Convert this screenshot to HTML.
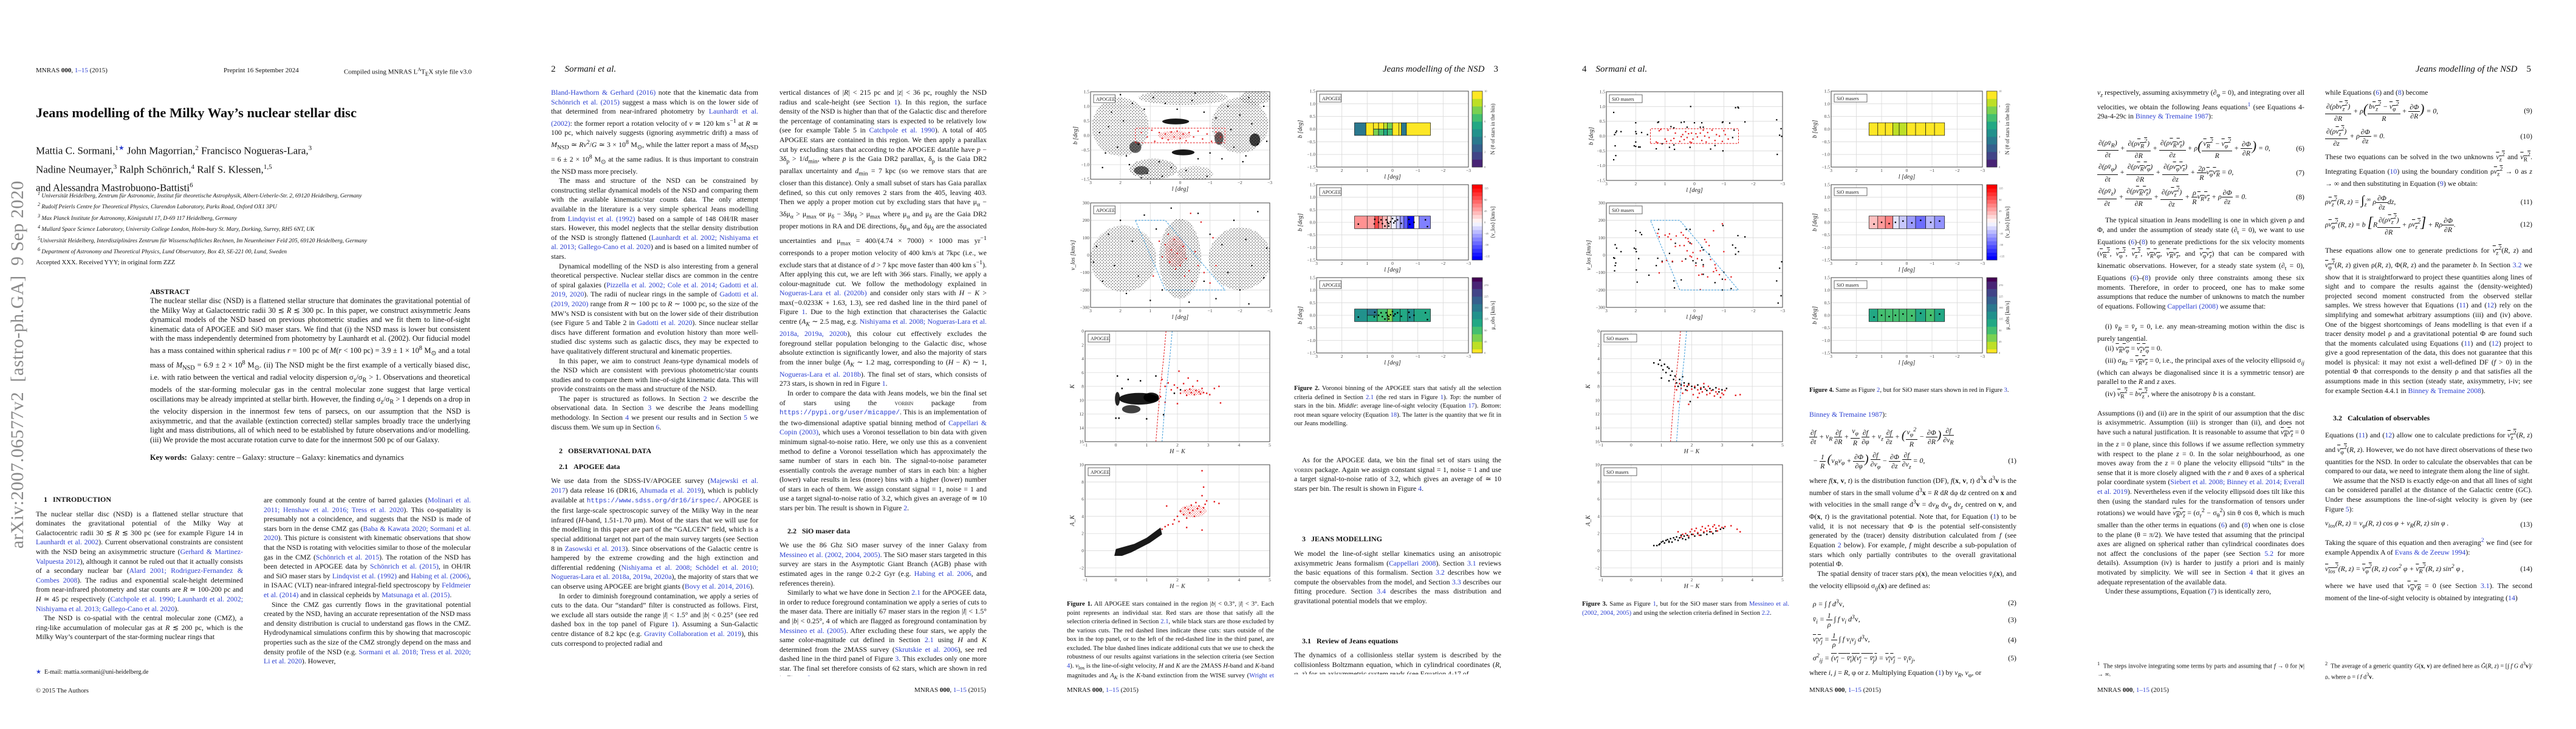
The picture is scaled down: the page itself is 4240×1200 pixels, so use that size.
<!DOCTYPE html>
<html><head><meta charset="utf-8">
<style>
*{margin:0;padding:0;box-sizing:border-box}
body{width:4240px;height:1200px;background:#fff;position:relative;overflow:hidden;font-family:"Liberation Serif",serif;color:#111}
.a{position:absolute}
.col{position:absolute;width:341px;font-size:11.8px;line-height:15.6px;text-align:justify;overflow:hidden;hyphens:auto}
.col p{text-indent:13px}
.col p.ni{text-indent:0}
.hd{font-weight:bold;font-size:12px;text-indent:0;margin:0}
.lk{color:#2b3fd1}
.hdr{position:absolute;top:106px;font-size:15px;font-style:italic}
.ftr{position:absolute;top:1130px;font-size:11px}
.cap{position:absolute;width:341px;font-size:10.6px;line-height:14.5px;text-align:justify;overflow:hidden}
.fr{display:inline-flex;flex-direction:column;vertical-align:middle;text-align:center;line-height:14px}
.fr>span:first-child{border-bottom:1px solid #111;padding:0 2px}
.eq{display:flex;justify-content:space-between;align-items:center;margin:4px 0;text-align:left;font-style:italic}
.eq b{font-style:normal;font-weight:normal}
svg text{font-family:"Liberation Serif",serif}
</style></head><body>

<!-- ================= PAGE 1 ================= -->
<div class="a" style="left:0;top:0;width:848px;height:1200px">
<div class="a" style="left:12px;top:903px;width:560px;font-size:30px;color:#8a8a8a;transform:rotate(-90deg);transform-origin:0 0;white-space:nowrap;letter-spacing:0.5px">arXiv:2007.06577v2&nbsp; [astro-ph.GA]&nbsp; 9 Sep 2020</div>
<div class="a" style="left:59px;top:110px;font-size:11px">MNRAS <b>000</b>, <span class="lk">1–15</span> (2015)</div>
<div class="a" style="left:368px;top:110px;font-size:11px">Preprint 16 September 2024</div>
<div class="a" style="left:566px;top:110px;font-size:11px">Compiled using MNRAS L<sup style="font-size:8px">A</sup>T<sub style="font-size:9px">E</sub>X style file v3.0</div>
<div class="a" style="left:59px;top:173px;font-size:22.5px;font-weight:bold;white-space:nowrap">Jeans modelling of the Milky Way’s nuclear stellar disc</div>
<div class="a" style="left:59px;top:231px;font-size:17px;line-height:26px;white-space:nowrap">Mattia C. Sormani,<sup style="font-size:11px">1<span class="lk">★</span></sup> John Magorrian,<sup style="font-size:11px">2</sup> Francisco Nogueras-Lara,<sup style="font-size:11px">3</sup><br>Nadine Neumayer,<sup style="font-size:11px">3</sup> Ralph Schönrich,<sup style="font-size:11px">4</sup> Ralf S. Klessen,<sup style="font-size:11px">1,5</sup><br>and Alessandra Mastrobuono-Battisti<sup style="font-size:11px">6</sup></div>
<div class="a" style="left:62px;top:312px;font-size:9.6px;line-height:14.2px;font-style:italic;white-space:nowrap">
<sup>1</sup> Universität Heidelberg, Zentrum für Astronomie, Institut für theoretische Astrophysik, Albert-Ueberle-Str. 2, 69120 Heidelberg, Germany<br>
<sup>2</sup> Rudolf Peierls Centre for Theoretical Physics, Clarendon Laboratory, Parks Road, Oxford OX1 3PU<br>
<sup>3</sup> Max Planck Institute for Astronomy, Königstuhl 17, D-69 117 Heidelberg, Germany<br>
<sup>4</sup> Mullard Space Science Laboratory, University College London, Holm-bury St. Mary, Dorking, Surrey, RH5 6NT, UK<br>
<sup>5</sup>Universität Heidelberg, Interdisziplinäres Zentrum für Wissenschaftliches Rechnen, Im Neuenheimer Feld 205, 69120 Heidelberg, Germany<br>
<sup>6</sup> Department of Astronomy and Theoretical Physics, Lund Observatory, Box 43, SE-221 00, Lund, Sweden</div>
<div class="a" style="left:59px;top:427px;font-size:10.6px">Accepted XXX. Received YYY; in original form ZZZ</div>
<div class="a" style="left:247px;top:473px;font-size:12px;font-weight:bold">ABSTRACT</div>
<div class="col" style="left:247px;top:488px;width:527px;height:248px;font-size:12.4px">The nuclear stellar disc (NSD) is a flattened stellar structure that dominates the gravitational potential of the Milky Way at Galactocentric radii 30 ≲ <i>R</i> ≲ 300 pc. In this paper, we construct axisymmetric Jeans dynamical models of the NSD based on previous photometric studies and we fit them to line-of-sight kinematic data of APOGEE and SiO maser stars. We find that (i) the NSD mass is lower but consistent with the mass independently determined from photometry by Launhardt et al. (2002). Our fiducial model has a mass contained within spherical radius <i>r</i> = 100 pc of <i>M</i>(<i>r</i> &lt; 100 pc) = 3.9 ± 1 × 10<sup>8</sup> M<sub>⊙</sub> and a total mass of <i>M</i><sub>NSD</sub> = 6.9 ± 2 × 10<sup>8</sup> M<sub>⊙</sub>. (ii) The NSD might be the first example of a vertically biased disc, i.e. with ratio between the vertical and radial velocity dispersion σ<sub>z</sub>/σ<sub>R</sub> &gt; 1. Observations and theoretical models of the star-forming molecular gas in the central molecular zone suggest that large vertical oscillations may be already imprinted at stellar birth. However, the finding σ<sub>z</sub>/σ<sub>R</sub> &gt; 1 depends on a drop in the velocity dispersion in the innermost few tens of parsecs, on our assumption that the NSD is axisymmetric, and that the available (extinction corrected) stellar samples broadly trace the underlying light and mass distributions, all of which need to be established by future observations and/or modelling. (iii) We provide the most accurate rotation curve to date for the innermost 500 pc of our Galaxy.</div>
<div class="a" style="left:247px;top:746px;font-size:12.4px"><b>Key words:</b>&nbsp; Galaxy: centre – Galaxy: structure – Galaxy: kinematics and dynamics</div>
<div class="col" style="left:59px;top:815px;height:256px">
<p class="hd">1&nbsp;&nbsp;&nbsp;INTRODUCTION</p><div style="height:8px"></div>
<p class="ni">The nuclear stellar disc (NSD) is a flattened stellar structure that dominates the gravitational potential of the Milky Way at Galactocentric radii 30 ≲ <i>R</i> ≲ 300 pc (see for example Figure 14 in <span class="lk">Launhardt et al. 2002</span>). Current observational constraints are consistent with the NSD being an axisymmetric structure (<span class="lk">Gerhard &amp; Martinez-Valpuesta 2012</span>), although it cannot be ruled out that it actually consists of a secondary nuclear bar (<span class="lk">Alard 2001; Rodriguez-Fernandez &amp; Combes 2008</span>). The radius and exponential scale-height determined from near-infrared photometry and star counts are <i>R</i> ≃ 100-200 pc and <i>H</i> ≃ 45 pc respectively (<span class="lk">Catchpole et al. 1990; Launhardt et al. 2002; Nishiyama et al. 2013; Gallego-Cano et al. 2020</span>).</p>
<p>The NSD is co-spatial with the central molecular zone (CMZ), a ring-like accumulation of molecular gas at <i>R</i> ≲ 200 pc, which is the Milky Way’s counterpart of the star-forming nuclear rings that</p></div>
<div class="col" style="left:434px;top:816px;height:296px">
<p class="ni">are commonly found at the centre of barred galaxies (<span class="lk">Molinari et al. 2011; Henshaw et al. 2016; Tress et al. 2020</span>). This co-spatiality is presumably not a coincidence, and suggests that the NSD is made of stars born in the dense CMZ gas (<span class="lk">Baba &amp; Kawata 2020; Sormani et al. 2020</span>). This picture is consistent with kinematic observations that show that the NSD is rotating with velocities similar to those of the molecular gas in the CMZ (<span class="lk">Schönrich et al. 2015</span>). The rotation of the NSD has been detected in APOGEE data by <span class="lk">Schönrich et al. (2015)</span>, in OH/IR and SiO maser stars by <span class="lk">Lindqvist et al. (1992)</span> and <span class="lk">Habing et al. (2006)</span>, in ISAAC (VLT) near-infrared integral-field spectroscopy by <span class="lk">Feldmeier et al. (2014)</span> and in classical cepheids by <span class="lk">Matsunaga et al. (2015)</span>.</p>
<p>Since the CMZ gas currently flows in the gravitational potential created by the NSD, having an accurate representation of the NSD mass and density distribution is crucial to understand gas flows in the CMZ. Hydrodynamical simulations confirm this by showing that macroscopic properties such as the size of the CMZ strongly depend on the mass and density profile of the NSD (e.g. <span class="lk">Sormani et al. 2018; Tress et al. 2020; Li et al. 2020</span>). However,</p></div>
<div class="a" style="left:59px;top:1101px;font-size:10px"><span class="lk">★</span>&nbsp; E-mail: mattia.sormani@uni-heidelberg.de</div>
<div class="a" style="left:59px;top:1132px;font-size:10.6px">© 2015 The Authors</div>
</div>

<!-- ================= PAGE 2 ================= -->
<div class="hdr" style="left:907px;font-style:normal"><span style="font-style:normal">2</span>&nbsp;&nbsp;&nbsp;&nbsp;<i>Sormani et al.</i></div>
<div class="col" style="left:907px;top:145px;height:968px">
<p class="ni"><span class="lk">Bland-Hawthorn &amp; Gerhard (2016)</span> note that the kinematic data from <span class="lk">Schönrich et al. (2015)</span> suggest a mass which is on the lower side of that determined from near-infrared photometry by <span class="lk">Launhardt et al. (2002)</span>: the former report a rotation velocity of <i>v</i> ≃ 120 km s<sup>−1</sup> at <i>R</i> ≃ 100 pc, which naively suggests (ignoring asymmetric drift) a mass of <i>M</i><sub>NSD</sub> ≃ <i>Rv</i><sup>2</sup>/<i>G</i> ≃ 3 × 10<sup>8</sup> M<sub>⊙</sub>, while the latter report a mass of <i>M</i><sub>NSD</sub> = 6 ± 2 × 10<sup>8</sup> M<sub>⊙</sub> at the same radius. It is thus important to constrain the NSD mass more precisely.</p>
<p>The mass and structure of the NSD can be constrained by constructing stellar dynamical models of the NSD and comparing them with the available kinematic/star counts data. The only attempt available in the literature is a very simple spherical Jeans modelling from <span class="lk">Lindqvist et al. (1992)</span> based on a sample of 148 OH/IR maser stars. However, this model neglects that the stellar density distribution of the NSD is strongly flattened (<span class="lk">Launhardt et al. 2002; Nishiyama et al. 2013; Gallego-Cano et al. 2020</span>) and is based on a limited number of stars.</p>
<p>Dynamical modelling of the NSD is also interesting from a general theoretical perspective. Nuclear stellar discs are common in the centre of spiral galaxies (<span class="lk">Pizzella et al. 2002; Cole et al. 2014; Gadotti et al. 2019, 2020</span>). The radii of nuclear rings in the sample of <span class="lk">Gadotti et al. (2019, 2020)</span> range from <i>R</i> ∼ 100 pc to <i>R</i> ∼ 1000 pc, so the size of the MW’s NSD is consistent with but on the lower side of their distribution (see Figure 5 and Table 2 in <span class="lk">Gadotti et al. 2020</span>). Since nuclear stellar discs have different formation and evolution history than more well-studied disc systems such as galactic discs, they may be expected to have qualitatively different structural and kinematic properties.</p>
<p>In this paper, we aim to construct Jeans-type dynamical models of the NSD which are consistent with previous photometric/star counts studies and to compare them with line-of-sight kinematic data. This will provide constraints on the mass and structure of the NSD.</p>
<p>The paper is structured as follows. In Section <span class="lk">2</span> we describe the observational data. In Section <span class="lk">3</span> we describe the Jeans modelling methodology. In Section <span class="lk">4</span> we present our results and in Section <span class="lk">5</span> we discuss them. We sum up in Section <span class="lk">6</span>.</p>
<div style="height:24px"></div>
<p class="hd">2&nbsp;&nbsp;&nbsp;OBSERVATIONAL DATA</p><div style="height:10px"></div>
<p class="hd">2.1&nbsp;&nbsp;&nbsp;APOGEE data</p><div style="height:8px"></div>
<p class="ni">We use data from the SDSS-IV/APOGEE survey (<span class="lk">Majewski et al. 2017</span>) data release 16 (DR16, <span class="lk">Ahumada et al. 2019</span>), which is publicly available at <span class="lk" style="font-family:'Liberation Mono',monospace;font-size:11px">https://www.sdss.org/dr16/irspec/</span>. APOGEE is the first large-scale spectroscopic survey of the Milky Way in the near infrared (<i>H</i>-band, 1.51-1.70 μm). Most of the stars that we will use for the modelling in this paper are part of the “GALCEN” field, which is a special additional target not part of the main survey targets (see Section 8 in <span class="lk">Zasowski et al. 2013</span>). Since observations of the Galactic centre is hampered by the extreme crowding and the high extinction and differential reddening (<span class="lk">Nishiyama et al. 2008; Schödel et al. 2010; Nogueras-Lara et al. 2018a, 2019a, 2020a</span>), the majority of stars that we can observe using APOGEE are bright giants (<span class="lk">Bovy et al. 2014, 2016</span>).</p>
<p>In order to diminish foreground contamination, we apply a series of cuts to the data. Our “standard” filter is constructed as follows. First, we exclude all stars outside the range |<i>l</i>| &lt; 1.5° and |<i>b</i>| &lt; 0.25° (see red dashed box in the top panel of Figure <span class="lk">1</span>). Assuming a Sun-Galactic centre distance of 8.2 kpc (e.g. <span class="lk">Gravity Collaboration et al. 2019</span>), this cuts correspond to projected radial and</p></div>
<div class="col" style="left:1283px;top:145px;height:968px">
<p class="ni">vertical distances of |<i>R</i>| &lt; 215 pc and |<i>z</i>| &lt; 36 pc, roughly the NSD radius and scale-height (see Section <span class="lk">1</span>). In this region, the surface density of the NSD is higher than that of the Galactic disc and therefore the percentage of contaminating stars is expected to be relatively low (see for example Table 5 in <span class="lk">Catchpole et al. 1990</span>). A total of 405 APOGEE stars are contained in this region. We then apply a parallax cut by excluding stars that according to the APOGEE datafile have <i>p</i> − 3δ<sub>p</sub> &gt; 1/<i>d</i><sub>min</sub>, where <i>p</i> is the Gaia DR2 parallax, δ<sub>p</sub> is the Gaia DR2 parallax uncertainty and <i>d</i><sub>min</sub> = 7 kpc (so we remove stars that are closer than this distance). Only a small subset of stars has Gaia parallax defined, so this cut only removes 2 stars from the 405, leaving 403. Then we apply a proper motion cut by excluding stars that have μ<sub>α</sub> − 3δμ<sub>α</sub> &gt; μ<sub>max</sub> or μ<sub>δ</sub> − 3δμ<sub>δ</sub> &gt; μ<sub>max</sub> where μ<sub>α</sub> and μ<sub>δ</sub> are the Gaia DR2 proper motions in RA and DE directions, δμ<sub>α</sub> and δμ<sub>δ</sub> are the associated uncertainties and μ<sub>max</sub> = 400/(4.74 × 7000) × 1000 mas yr<sup>−1</sup> corresponds to a proper motion velocity of 400 km/s at 7kpc (i.e., we exclude stars that at distance of <i>d</i> &gt; 7 kpc move faster than 400 km s<sup>−1</sup>). After applying this cut, we are left with 366 stars. Finally, we apply a colour-magnitude cut. We follow the methodology explained in <span class="lk">Nogueras-Lara et al. (2020b)</span> and consider only stars with <i>H</i> − <i>K</i> &gt; max(−0.0233<i>K</i> + 1.63, 1.3), see red dashed line in the third panel of Figure <span class="lk">1</span>. Due to the high extinction that characterises the Galactic centre (<i>A<sub>K</sub></i> ∼ 2.5 mag, e.g. <span class="lk">Nishiyama et al. 2008; Nogueras-Lara et al. 2018a, 2019a, 2020b</span>), this colour cut effectively excludes the foreground stellar population belonging to the Galactic disc, whose absolute extinction is significantly lower, and also the majority of stars from the inner bulge (<i>A<sub>K</sub></i> ∼ 1.2 mag, corresponding to (<i>H</i> − <i>K</i>) ∼ 1, <span class="lk">Nogueras-Lara et al. 2018b</span>). The final set of stars, which consists of 273 stars, is shown in red in Figure <span class="lk">1</span>.</p>
<p>In order to compare the data with Jeans models, we bin the final set of stars using the <span style="font-variant:small-caps">vorbin</span> package from <span class="lk" style="font-family:'Liberation Mono',monospace;font-size:11px">https://pypi.org/user/micappe/</span>. This is an implementation of the two-dimensional adaptive spatial binning method of <span class="lk">Cappellari &amp; Copin (2003)</span>, which uses a Voronoi tessellation to bin data with given minimum signal-to-noise ratio. Here, we only use this as a convenient method to define a Voronoi tessellation which has approximately the same number of stars in each bin. The signal-to-noise parameter essentially controls the average number of stars in each bin: a higher (lower) value results in less (more) bins with a higher (lower) number of stars in each of them. We assign constant signal = 1, noise = 1 and use a target signal-to-noise ratio of 3.2, which gives an average of ≃ 10 stars per bin. The result is shown in Figure <span class="lk">2</span>.</p>
<div style="height:22px"></div>
<p class="hd">2.2&nbsp;&nbsp;&nbsp;SiO maser data</p><div style="height:8px"></div>
<p class="ni">We use the 86 Ghz SiO maser survey of the inner Galaxy from <span class="lk">Messineo et al. (2002, 2004, 2005)</span>. The SiO maser stars targeted in this survey are stars in the Asymptotic Giant Branch (AGB) phase with estimated ages in the range 0.2-2 Gyr (e.g. <span class="lk">Habing et al. 2006</span>, and references therein).</p>
<p>Similarly to what we have done in Section <span class="lk">2.1</span> for the APOGEE data, in order to reduce foreground contamination we apply a series of cuts to the maser data. There are initially 67 maser stars in the region |<i>l</i>| &lt; 1.5° and |<i>b</i>| &lt; 0.25°, 4 of which are flagged as foreground contamination by <span class="lk">Messineo et al. (2005)</span>. After excluding these four stars, we apply the same color-magnitude cut defined in Section <span class="lk">2.1</span> using <i>H</i> and <i>K</i> determined from the 2MASS survey (<span class="lk">Skrutskie et al. 2006</span>), see red dashed line in the third panel of Figure <span class="lk">3</span>. This excludes only one more star. The final set therefore consists of 62 stars, which are shown in red in Figure <span class="lk">3</span>.</p></div>
<div class="ftr" style="left:1505px">MNRAS <b>000</b>, <span class="lk">1–15</span> (2015)</div>

<!-- ================= PAGE 3 ================= -->
<div class="hdr" style="left:2247px;width:219px;text-align:right"><i>Jeans modelling of the NSD</i>&nbsp;&nbsp;&nbsp;&nbsp;<span style="font-style:normal">3</span></div>
<div class="cap" style="left:1756px;top:988px;height:136px"><b>Figure 1.</b> All APOGEE stars contained in the region |<i>b</i>| &lt; 0.3°, |<i>l</i>| &lt; 3°. Each point represents an individual star. Red stars are those that satisfy all the selection criteria defined in Section <span class="lk">2.1</span>, while black stars are those excluded by the various cuts. The red dashed lines indicate these cuts: stars outside of the box in the top panel, or to the left of the red-dashed line in the third panel, are excluded. The blue dashed lines indicate additional cuts that we use to check the robustness of our results against variations in the selection criteria (see Section <span class="lk">4</span>). <i>v</i><sub>los</sub> is the line-of-sight velocity, <i>H</i> and <i>K</i> are the 2MASS <i>H</i>-band and <i>K</i>-band magnitudes and <i>A<sub>K</sub></i> is the <i>K</i>-band extinction from the WISE survey (<span class="lk">Wright et al. 2010</span>).</div>
<div class="ftr" style="left:1756px">MNRAS <b>000</b>, <span class="lk">1–15</span> (2015)</div>
<div class="cap" style="left:2130px;top:633px;height:74px"><b>Figure 2.</b> Voronoi binning of the APOGEE stars that satisfy all the selection criteria defined in Section <span class="lk">2.1</span> (the red stars in Figure <span class="lk">1</span>). <i>Top</i>: the number of stars in the bin. <i>Middle</i>: average line-of-sight velocity (Equation <span class="lk">17</span>). <i>Bottom</i>: root mean square velocity (Equation <span class="lk">18</span>). The latter is the quantity that we fit in our Jeans modelling.</div>
<div class="col" style="left:2130px;top:750px;height:360px">
<p>As for the APOGEE data, we bin the final set of stars using the <span style="font-variant:small-caps">vorbin</span> package. Again we assign constant signal = 1, noise = 1 and use a target signal-to-noise ratio of 3.2, which gives an average of ≃ 10 stars per bin. The result is shown in Figure <span class="lk">4</span>.</p>
<div style="height:68px"></div>
<p class="hd">3&nbsp;&nbsp;&nbsp;JEANS MODELLING</p><div style="height:8px"></div>
<p class="ni">We model the line-of-sight stellar kinematics using an anisotropic axisymmetric Jeans formalism (<span class="lk">Cappellari 2008</span>). Section <span class="lk">3.1</span> reviews the basic equations of this formalism. Section <span class="lk">3.2</span> describes how we compute the observables from the model, and Section <span class="lk">3.3</span> describes our fitting procedure. Section <span class="lk">3.4</span> describes the mass distribution and gravitational potential models that we employ.</p>
<div style="height:50px"></div>
<p class="hd">3.1&nbsp;&nbsp;&nbsp;Review of Jeans equations</p><div style="height:8px"></div>
<p class="ni">The dynamics of a collisionless stellar system is described by the collisionless Boltzmann equation, which in cylindrical coordinates (<i>R</i>, φ, <i>z</i>) for an axisymmetric system reads (see Equation 4-17 of</p></div>

<!-- ================= PAGE 4 ================= -->
<div class="hdr" style="left:2604px"><span style="font-style:normal">4</span>&nbsp;&nbsp;&nbsp;&nbsp;<i>Sormani et al.</i></div>
<div class="cap" style="left:2604px;top:988px;height:30px"><b>Figure 3.</b> Same as Figure <span class="lk">1</span>, but for the SiO maser stars from <span class="lk">Messineo et al. (2002, 2004, 2005)</span> and using the selection criteria defined in Section <span class="lk">2.2</span>.</div>
<div class="cap" style="left:2978px;top:636px;height:16px"><b>Figure 4.</b> Same as Figure <span class="lk">2</span>, but for SiO maser stars shown in red in Figure <span class="lk">3</span>.</div>
<div class="col" style="left:2978px;top:675px;height:440px">
<p class="ni"><span class="lk">Binney &amp; Tremaine 1987</span>):</p>
<div class="eq" style="margin-top:10px"><span><span class="fr"><span>∂<i>f</i></span><span>∂<i>t</i></span></span> + <i>v<sub>R</sub></i> <span class="fr"><span>∂<i>f</i></span><span>∂<i>R</i></span></span> + <span class="fr"><span><i>v</i><sub>φ</sub></span><span><i>R</i></span></span> <span class="fr"><span>∂<i>f</i></span><span>∂φ</span></span> + <i>v<sub>z</sub></i> <span class="fr"><span>∂<i>f</i></span><span>∂<i>z</i></span></span> + <span style="font-size:20px">(</span><span class="fr"><span><i>v</i><sub>φ</sub><sup>2</sup></span><span><i>R</i></span></span> − <span class="fr"><span>∂Φ</span><span>∂<i>R</i></span></span><span style="font-size:20px">)</span> <span class="fr"><span>∂<i>f</i></span><span>∂<i>v<sub>R</sub></i></span></span></span></div>
<div class="eq"><span>&nbsp;&nbsp;− <span class="fr"><span>1</span><span><i>R</i></span></span> <span style="font-size:20px">(</span><i>v<sub>R</sub>v</i><sub>φ</sub> + <span class="fr"><span>∂Φ</span><span>∂φ</span></span><span style="font-size:20px">)</span> <span class="fr"><span>∂<i>f</i></span><span>∂<i>v</i><sub>φ</sub></span></span> − <span class="fr"><span>∂Φ</span><span>∂<i>z</i></span></span> <span class="fr"><span>∂<i>f</i></span><span>∂<i>v<sub>z</sub></i></span></span> = 0,</span><b>(1)</b></div>
<p class="ni">where <i>f</i>(<b>x</b>, <b>v</b>, <i>t</i>) is the distribution function (DF), <i>f</i>(<b>x</b>, <b>v</b>, <i>t</i>) d<sup>3</sup><b>x</b> d<sup>3</sup><b>v</b> is the number of stars in the small volume d<sup>3</sup><b>x</b> = <i>R</i> d<i>R</i> dφ d<i>z</i> centred on <b>x</b> and with velocities in the small range d<sup>3</sup><b>v</b> = d<i>v<sub>R</sub></i> d<i>v</i><sub>φ</sub> d<i>v<sub>z</sub></i> centred on <b>v</b>, and Φ(<b>x</b>, <i>t</i>) is the gravitational potential. Note that, for Equation (<span class="lk">1</span>) to be valid, it is not necessary that Φ is the potential self-consistently generated by the (tracer) density distribution calculated from <i>f</i> (see Equation <span class="lk">2</span> below). For example, <i>f</i> might describe a sub-population of stars which only partially contributes to the overall gravitational potential Φ.</p>
<p>The spatial density of tracer stars ρ(<b>x</b>), the mean velocities <i>v̄<sub>i</sub></i>(<b>x</b>), and the velocity ellipsoid σ<sub><i>ij</i></sub>(<b>x</b>) are defined as:</p>
<div class="eq" style="margin-top:6px"><span>&nbsp;&nbsp;ρ = ∫ <i>f</i> d<sup>3</sup><b>v</b>,</span><b>(2)</b></div>
<div class="eq"><span>&nbsp;&nbsp;<i>v̄<sub>i</sub></i> = <span class="fr"><span>1</span><span>ρ</span></span> ∫ <i>f v<sub>i</sub></i> d<sup>3</sup><b>v</b>,</span><b>(3)</b></div>
<div class="eq"><span>&nbsp;&nbsp;<span style="text-decoration:overline"><i>v<sub>i</sub>v<sub>j</sub></i></span> = <span class="fr"><span>1</span><span>ρ</span></span> ∫ <i>f v<sub>i</sub>v<sub>j</sub></i> d<sup>3</sup><b>v</b>,</span><b>(4)</b></div>
<div class="eq"><span>&nbsp;&nbsp;σ<sup>2</sup><sub><i>ij</i></sub> = <span style="text-decoration:overline">(<i>v<sub>i</sub></i> − <i>v̄<sub>i</sub></i>)(<i>v<sub>j</sub></i> − <i>v̄<sub>j</sub></i>)</span> = <span style="text-decoration:overline"><i>v<sub>i</sub>v<sub>j</sub></i></span> − <i>v̄<sub>i</sub>v̄<sub>j</sub></i>,</span><b>(5)</b></div>
<p class="ni">where <i>i</i>, <i>j</i> = <i>R</i>, φ or <i>z</i>. Multiplying Equation (<span class="lk">1</span>) by <i>v<sub>R</sub></i>, <i>v</i><sub>φ</sub>, or</p></div>
<div class="ftr" style="left:2978px">MNRAS <b>000</b>, <span class="lk">1–15</span> (2015)</div>

<!-- ================= PAGE 5 ================= -->
<div class="hdr" style="left:3900px;width:266px;text-align:right"><i>Jeans modelling of the NSD</i>&nbsp;&nbsp;&nbsp;&nbsp;<span style="font-style:normal">5</span></div>
<div class="col" style="left:3452px;top:145px;height:915px">
<p class="ni"><i>v<sub>z</sub></i> respectively, assuming axisymmetry (∂<sub>φ</sub> = 0), and integrating over all velocities, we obtain the following Jeans equations<sup class="lk">1</sup> (see Equations 4-29a-4-29c in <span class="lk">Binney &amp; Tremaine 1987</span>):</p>
<div style="height:22px"></div>
<div class="eq"><span><span class="fr"><span>∂(ρ<i>v̄<sub>R</sub></i>)</span><span>∂<i>t</i></span></span> + <span class="fr"><span>∂(ρ<span style="text-decoration:overline"><i>v</i><sub>R</sub><sup>2</sup></span>)</span><span>∂<i>R</i></span></span> + <span class="fr"><span>∂(ρ<span style="text-decoration:overline"><i>v<sub>R</sub>v<sub>z</sub></i></span>)</span><span>∂<i>z</i></span></span> + ρ<span style="font-size:22px">(</span><span class="fr"><span><span style="text-decoration:overline"><i>v</i><sub>R</sub><sup>2</sup></span> − <span style="text-decoration:overline"><i>v</i><sub>φ</sub><sup>2</sup></span></span><span><i>R</i></span></span> + <span class="fr"><span>∂Φ</span><span>∂<i>R</i></span></span><span style="font-size:22px">)</span> = 0,</span><b>(6)</b></div>
<div class="eq"><span><span class="fr"><span>∂(ρ<i>v̄</i><sub>φ</sub>)</span><span>∂<i>t</i></span></span> + <span class="fr"><span>∂(ρ<span style="text-decoration:overline"><i>v<sub>R</sub>v</i><sub>φ</sub></span>)</span><span>∂<i>R</i></span></span> + <span class="fr"><span>∂(ρ<span style="text-decoration:overline"><i>v</i><sub>φ</sub><i>v<sub>z</sub></i></span>)</span><span>∂<i>z</i></span></span> + <span class="fr"><span>2ρ</span><span><i>R</i></span></span><span style="text-decoration:overline"><i>v</i><sub>φ</sub><i>v<sub>R</sub></i></span> = 0,</span><b>(7)</b></div>
<div class="eq"><span><span class="fr"><span>∂(ρ<i>v̄<sub>z</sub></i>)</span><span>∂<i>t</i></span></span> + <span class="fr"><span>∂(ρ<span style="text-decoration:overline"><i>v<sub>R</sub>v<sub>z</sub></i></span>)</span><span>∂<i>R</i></span></span> + <span class="fr"><span>∂(ρ<span style="text-decoration:overline"><i>v</i><sub>z</sub><sup>2</sup></span>)</span><span>∂<i>z</i></span></span> + <span class="fr"><span>ρ</span><span><i>R</i></span></span><span style="text-decoration:overline"><i>v<sub>R</sub>v<sub>z</sub></i></span> + ρ<span class="fr"><span>∂Φ</span><span>∂<i>z</i></span></span> = 0.</span><b>(8)</b></div>
<div style="height:8px"></div>
<p>The typical situation in Jeans modelling is one in which given ρ and Φ, and under the assumption of steady state (∂<sub>t</sub> = 0), we want to use Equations (<span class="lk">6</span>)-(<span class="lk">8</span>) to generate predictions for the six velocity moments (<span style="text-decoration:overline"><i>v</i><sub>R</sub><sup>2</sup></span>, <span style="text-decoration:overline"><i>v</i><sub>φ</sub><sup>2</sup></span>, <span style="text-decoration:overline"><i>v</i><sub>z</sub><sup>2</sup></span>, <span style="text-decoration:overline"><i>v<sub>R</sub>v</i><sub>φ</sub></span>, <span style="text-decoration:overline"><i>v<sub>R</sub>v<sub>z</sub></i></span>, and <span style="text-decoration:overline"><i>v</i><sub>φ</sub><i>v<sub>z</sub></i></span>) that can be compared with kinematic observations. However, for a steady state system (∂<sub>t</sub> = 0), Equations (<span class="lk">6</span>)–(<span class="lk">8</span>) provide only three constraints among these six moments. Therefore, in order to proceed, one has to make some assumptions that reduce the number of unknowns to match the number of equations. Following <span class="lk">Cappellari (2008)</span> we assume that:</p>
<div style="height:18px"></div>
<p>(i) <i>v̄<sub>R</sub></i> = <i>v̄<sub>z</sub></i> = 0, i.e. any mean-streaming motion within the disc is purely tangential.</p>
<p>(ii) <span style="text-decoration:overline"><i>v<sub>R</sub>v</i><sub>φ</sub></span> = <span style="text-decoration:overline"><i>v<sub>z</sub>v</i><sub>φ</sub></span> = 0.</p>
<p>(iii) σ<sub><i>Rz</i></sub> = <span style="text-decoration:overline"><i>v<sub>R</sub>v<sub>z</sub></i></span> = 0, i.e., the principal axes of the velocity ellipsoid σ<sub><i>ij</i></sub> (which can always be diagonalised since it is a symmetric tensor) are parallel to the <i>R</i> and <i>z</i> axes.</p>
<p>(iv) <span style="text-decoration:overline"><i>v</i><sub>R</sub><sup>2</sup></span> = <i>b</i><span style="text-decoration:overline"><i>v</i><sub>z</sub><sup>2</sup></span>, where the anisotropy <i>b</i> is a constant.</p>
<div style="height:12px"></div>
<p class="ni">Assumptions (i) and (ii) are in the spirit of our assumption that the disc is axisymmetric. Assumption (iii) is stronger than (ii), and does not have such a natural justification. It is reasonable to assume that <span style="text-decoration:overline"><i>v<sub>R</sub>v<sub>z</sub></i></span> = 0 in the <i>z</i> = 0 plane, since this follows if we assume reflection symmetry with respect to the plane <i>z</i> = 0. In the solar neighbourhood, as one moves away from the <i>z</i> = 0 plane the velocity ellipsoid “tilts” in the sense that it is more closely aligned with the <i>r</i> and θ axes of a spherical polar coordinate system (<span class="lk">Siebert et al. 2008; Binney et al. 2014; Everall et al. 2019</span>). Nevertheless even if the velocity ellipsoid does tilt like this then (using the standard rules for the transformation of tensors under rotations) we would have <span style="text-decoration:overline"><i>v<sub>R</sub>v<sub>z</sub></i></span> = (σ<sub>r</sub><sup>2</sup> − σ<sub>θ</sub><sup>2</sup>) sin θ cos θ, which is much smaller than the other terms in equations (<span class="lk">6</span>) and (<span class="lk">8</span>) when one is close to the plane (θ = π/2). We have tested that assuming that the principal axes are aligned on spherical rather than cylindrical coordinates does not affect the conclusions of the paper (see Section <span class="lk">5.2</span> for more details). Assumption (iv) is harder to justify a priori and is mainly motivated by simplicity. We will see in Section <span class="lk">4</span> that it gives an adequate representation of the available data.</p>
<p>Under these assumptions, Equation (<span class="lk">7</span>) is identically zero,</p></div>
<div class="cap" style="left:3452px;top:1086px;height:32px;font-size:10px;line-height:13.5px"><sup>1</sup>&nbsp; The steps involve integrating some terms by parts and assuming that <i>f</i> → 0 for |<b>v</b>| → ∞.</div>
<div class="ftr" style="left:3452px">MNRAS <b>000</b>, <span class="lk">1–15</span> (2015)</div>
<div class="col" style="left:3827px;top:145px;height:915px">
<p class="ni">while Equations (<span class="lk">6</span>) and (<span class="lk">8</span>) become</p>
<div class="eq"><span><span class="fr"><span>∂(ρ<i>b</i><span style="text-decoration:overline"><i>v</i><sub>z</sub><sup>2</sup></span>)</span><span>∂<i>R</i></span></span> + ρ<span style="font-size:22px">(</span><span class="fr"><span><i>b</i><span style="text-decoration:overline"><i>v</i><sub>z</sub><sup>2</sup></span> − <span style="text-decoration:overline"><i>v</i><sub>φ</sub><sup>2</sup></span></span><span><i>R</i></span></span> + <span class="fr"><span>∂Φ</span><span>∂<i>R</i></span></span><span style="font-size:22px">)</span> = 0,</span><b>(9)</b></div>
<div class="eq"><span><span class="fr"><span>∂(ρ<span style="text-decoration:overline"><i>v</i><sub>z</sub><sup>2</sup></span>)</span><span>∂<i>z</i></span></span> + ρ<span class="fr"><span>∂Φ</span><span>∂<i>z</i></span></span> = 0.</span><b>(10)</b></div>
<p class="ni">These two equations can be solved in the two unknowns <span style="text-decoration:overline"><i>v</i><sub>z</sub><sup>2</sup></span> and <span style="text-decoration:overline"><i>v</i><sub>R</sub><sup>2</sup></span>. Integrating Equation (<span class="lk">10</span>) using the boundary condition ρ<span style="text-decoration:overline"><i>v</i><sub>z</sub><sup>2</sup></span> → 0 as <i>z</i> → ∞ and then substituting in Equation (<span class="lk">9</span>) we obtain:</p>
<div class="eq" style="margin-top:8px"><span>ρ<span style="text-decoration:overline"><i>v</i><sub>z</sub><sup>2</sup></span>(<i>R</i>, <i>z</i>) = <span style="font-size:20px">∫</span><sub><i>z</i></sub><sup>∞</sup> ρ<span class="fr"><span>∂Φ</span><span>∂<i>z</i></span></span>d<i>z</i>,</span><b>(11)</b></div>
<div class="eq"><span>ρ<span style="text-decoration:overline"><i>v</i><sub>φ</sub><sup>2</sup></span>(<i>R</i>, <i>z</i>) = <i>b</i> <span style="font-size:24px">[</span><i>R</i><span class="fr"><span>∂(ρ<span style="text-decoration:overline"><i>v</i><sub>z</sub><sup>2</sup></span>)</span><span>∂<i>R</i></span></span> + ρ<span style="text-decoration:overline"><i>v</i><sub>z</sub><sup>2</sup></span><span style="font-size:24px">]</span> + <i>R</i>ρ<span class="fr"><span>∂Φ</span><span>∂<i>R</i></span></span>.</span><b>(12)</b></div>
<div style="height:8px"></div>
<p class="ni">These equations allow one to generate predictions for <span style="text-decoration:overline"><i>v</i><sub>z</sub><sup>2</sup></span>(<i>R</i>, <i>z</i>) and <span style="text-decoration:overline"><i>v</i><sub>φ</sub><sup>2</sup></span>(<i>R</i>, <i>z</i>) given ρ(<i>R</i>, <i>z</i>), Φ(<i>R</i>, <i>z</i>) and the parameter <i>b</i>. In Section <span class="lk">3.2</span> we show that it is straightforward to project these quantities along lines of sight and to compare the results against the (density-weighted) projected second moment constructed from the observed stellar samples. We stress however that Equations (<span class="lk">11</span>) and (<span class="lk">12</span>) rely on the simplifying and somewhat arbitrary assumptions (iii) and (iv) above. One of the biggest shortcomings of Jeans modelling is that even if a tracer density model ρ and a gravitational potential Φ are found such that the moments calculated using Equations (<span class="lk">11</span>) and (<span class="lk">12</span>) project to give a good representation of the data, this does not guarantee that this model is physical: it may not exist a well-defined DF (<i>f</i> &gt; 0) in the potential Φ that corresponds to the density ρ and that satisfies all the assumptions made in this section (steady state, axisymmetry, i-iv; see for example Section 4.4.1 in <span class="lk">Binney &amp; Tremaine 2008</span>).</p>
<div style="height:30px"></div>
<p class="hd">3.2&nbsp;&nbsp;&nbsp;Calculation of observables</p><div style="height:8px"></div>
<p class="ni">Equations (<span class="lk">11</span>) and (<span class="lk">12</span>) allow one to calculate predictions for <span style="text-decoration:overline"><i>v</i><sub>z</sub><sup>2</sup></span>(<i>R</i>, <i>z</i>) and <span style="text-decoration:overline"><i>v</i><sub>φ</sub><sup>2</sup></span>(<i>R</i>, <i>z</i>). However, we do not have direct observations of these two quantities for the NSD. In order to calculate the observables that can be compared to our data, we need to integrate them along the line of sight.</p>
<p>We assume that the NSD is exactly edge-on and that all lines of sight can be considered parallel at the distance of the Galactic centre (GC). Under these assumptions the line-of-sight velocity is given by (see Figure <span class="lk">5</span>):</p>
<div class="eq" style="margin:8px 0"><span><i>v</i><sub>los</sub>(<i>R</i>, <i>z</i>) = <i>v</i><sub>φ</sub>(<i>R</i>, <i>z</i>) cos φ + <i>v<sub>R</sub></i>(<i>R</i>, <i>z</i>) sin φ .</span><b>(13)</b></div>
<p class="ni">Taking the square of this equation and then averaging<sup class="lk">2</sup> we find (see for example Appendix A of <span class="lk">Evans &amp; de Zeeuw 1994</span>):</p>
<div class="eq" style="margin:8px 0"><span><span style="text-decoration:overline"><i>v</i><sub>los</sub><sup>2</sup></span>(<i>R</i>, <i>z</i>) = <span style="text-decoration:overline"><i>v</i><sub>φ</sub><sup>2</sup></span>(<i>R</i>, <i>z</i>) cos<sup>2</sup> φ + <span style="text-decoration:overline"><i>v</i><sub>R</sub><sup>2</sup></span>(<i>R</i>, <i>z</i>) sin<sup>2</sup> φ ,</span><b>(14)</b></div>
<p class="ni">where we have used that <span style="text-decoration:overline"><i>v</i><sub>φ</sub><i>v<sub>R</sub></i></span> = 0 (see Section <span class="lk">3.1</span>). The second moment of the line-of-sight velocity is obtained by integrating (<span class="lk">14</span>)</p></div>
<div class="cap" style="left:3827px;top:1086px;height:32px;font-size:10px;line-height:13.5px"><sup>2</sup>&nbsp; The average of a generic quantity <i>G</i>(<b>x</b>, <b>v</b>) are defined here as <i>Ḡ</i>(<i>R</i>, <i>z</i>) = [∫ <i>f G</i> d<sup>3</sup><b>v</b>]/ρ, where ρ = ∫ <i>f</i> d<sup>3</sup><b>v</b>.</div>

<svg id="figs" class="a" style="left:0;top:0" width="4240" height="1200" xmlns="http://www.w3.org/2000/svg">
<defs>
<pattern id="speck" patternUnits="userSpaceOnUse" width="5" height="5"><rect x="0.5" y="0.8" width="1.6" height="1.6" fill="#000"/><rect x="3.2" y="3.1" width="1.5" height="1.5" fill="#000"/></pattern>
<pattern id="speckR" patternUnits="userSpaceOnUse" width="4" height="4"><rect x="0.5" y="0.5" width="1.6" height="1.6" fill="#e41a1c"/><rect x="2.5" y="2.4" width="1.5" height="1.5" fill="#e41a1c"/></pattern>
</defs>
</svg>

<script>
// ---------------- DATA ----------------
// Figure 1 (APOGEE) — panel 1: l,b
const apoLB_fieldBlobs = [[2.0,0.3,0.95,1.0,0.6],[-2.0,0.35,0.95,0.95,0.6],[0.9,-1.15,0.8,0.35,0.7],[-0.1,1.3,1.5,0.25,0.6],[-2.5,1.3,0.5,0.25,0.75],[-0.5,-1.3,0.6,0.25,0.55]];
const apoLB_denseBlobs = [[0.15,0.48,0.45,0.1,0.9],[-0.1,-0.58,0.38,0.1,0.9],[-2.5,-0.15,0.18,0.22,0.75],[-1.3,-0.1,0.15,0.22,0.6],[1.5,-0.4,0.2,0.2,0.6],[1.3,-1.2,0.25,0.15,0.6]];
const apoLB_black = [[2.8,1.2],[2.5,-0.6],[2.3,0.8],[2.1,-0.4],[1.9,0.5],[1.7,-1.0],[1.6,1.1],[1.4,-0.3],[1.2,0.9],[1.1,-1.3],[0.9,1.3],[0.7,-0.9],[0.5,1.1],[0.3,-1.1],[0.1,0.9],[-0.2,-1.2],[-0.4,1.2],[-0.6,-0.8],[-0.8,0.8],[-1.0,-0.6],[-1.2,0.6],[-1.4,-0.8],[-1.6,1.0],[-1.8,-0.4],[-2.0,0.7],[-2.2,-0.7],[-2.4,0.4],[-2.6,-0.3],[-2.8,1.0],[-2.9,-0.2],[2.7,0.1],[2.4,0.3],[1.8,-0.7],[-1.7,0.2],[-2.3,1.3],[0.6,-1.4],[-0.9,-1.4],[2.0,1.4],[-0.5,1.45],[1.3,-1.45],[-2.1,-0.9],[2.6,-1.1]];
const apoLB_redBlobs = [[0.2,0.0,0.55,0.15,0.55],[-1.3,0.0,0.15,0.18,0.35]];
const apoLB_red = [[0.7,0.1],[0.6,-0.1],[0.5,0.05],[0.4,-0.15],[0.3,0.12],[0.2,-0.05],[0.1,0.15],[0.0,-0.1],[-0.1,0.05],[-0.2,-0.18],[-0.3,0.1],[-0.45,-0.05],[-0.6,0.15],[-0.75,-0.12],[-0.9,0.05],[-1.05,-0.2],[-1.2,0.12],[-1.35,-0.05],[0.85,-0.2],[0.95,0.18],[1.1,-0.05],[1.3,0.1]];
const selBox = [1.5,-1.5,-0.25,0.25];
// panel 2: l, vlos
const apoLV_fieldBlobs = [[1.9,-20,1.1,190,0.6],[-2.0,-20,1.05,180,0.6],[0.0,-20,0.7,230,0.65]];
const apoLV_denseBlobs = [[0.1,-30,0.35,110,0.4]];
const apoLV_black = [[2.8,50],[2.6,-150],[2.4,120],[2.2,-60],[2.0,200],[1.8,-220],[1.6,80],[1.4,-120],[1.2,230],[1.0,-260],[0.8,150],[0.6,-200],[-0.6,240],[-0.8,-150],[-1.0,120],[-1.2,-250],[-1.4,60],[-1.6,-100],[-1.8,200],[-2.0,-200],[-2.2,90],[-2.4,-60],[-2.6,250],[-2.8,-130],[-2.9,40],[2.9,-40],[-0.3,-270],[0.3,270],[-2.3,-280],[2.3,260]];
const apoLV_red = [[0.7,80],[0.6,-10],[0.5,60],[0.4,120],[0.35,-40],[0.3,30],[0.2,90],[0.15,-80],[0.1,10],[0.0,-60],[-0.1,50],[-0.15,-120],[-0.2,-20],[-0.3,-90],[-0.4,-150],[-0.5,20],[-0.6,-60],[-0.8,-100],[-1.0,-160],[-1.2,-60],[-0.7,190],[-1.1,100],[0.9,-120],[-0.35,240]];
const apoLV_redBlobs = [[0.15,20,0.35,90,0.5]];
const cutPoly = [[1.5,200],[0.5,200],[-1.5,-200],[0.5,-200]];
// panel 3: H-K, K
const apoHK_denseBlobs = [[0.75,9.8,0.65,0.85,0.9],[0.05,9.8,0.08,1.0,0.85],[1.15,9.6,0.25,0.7,0.9],[0.5,11.3,0.3,0.6,0.75]];
const apoHK_black = [[0.05,6.5],[0.1,12.6],[0.0,12.6],[1.0,12.7],[1.3,6.5],[0.4,7.0],[0.8,7.2],[1.55,12.1],[1.9,9.0],[2.1,8.5],[0.2,8.3]];
const apoHK_red = [[1.5,7.0],[1.6,8.0],[1.7,7.5],[1.8,8.5],[1.9,7.8],[2.0,8.2],[2.05,5.8],[2.1,9.0],[2.2,7.6],[2.25,8.6],[2.3,9.3],[2.35,6.8],[2.4,8.4],[2.45,8.9],[2.5,8.0],[2.55,9.2],[2.6,8.6],[2.65,7.2],[2.7,8.8],[2.75,9.1],[2.8,8.3],[2.85,8.9],[2.95,9.0],[3.05,9.2],[3.2,8.3],[3.35,8.0],[3.4,10.4],[2.0,10.5],[1.6,10.3],[1.45,9.5]];
const apoHK_redBlobs = [[2.5,8.8,0.35,0.5,0.6]];
const redCut = [[1.63,0],[1.55,4],[1.45,8],[1.37,12],[1.3,16]];
const blueCut = [[1.83,0],[1.75,4],[1.65,8],[1.57,12],[1.5,16]];
// panel 4: H-K, AK
const apoAK_band = [[-0.05,-0.6],[0.0,0.2],[0.6,0.8],[1.0,1.5],[1.45,2.7],[1.5,1.9],[1.1,0.9],[0.5,-0.2],[0.2,-0.6]];
const apoAK_red = [[1.5,2.5],[1.6,2.8],[1.7,3.0],[1.85,3.1],[1.9,3.6],[2.0,4.0],[2.05,3.4],[2.1,4.6],[2.2,4.2],[2.25,5.0],[2.3,3.8],[2.35,4.8],[2.4,4.4],[2.45,5.3],[2.5,4.7],[2.55,4.0],[2.6,5.6],[2.65,4.9],[2.7,5.2],[2.75,4.5],[2.8,6.4],[2.85,5.0],[2.9,5.4],[2.95,5.8],[2.8,9.3],[2.85,7.4],[2.8,2.4],[3.2,5.7],[3.35,5.5],[2.3,2.7],[1.65,5.2]];
const apoAK_redBlobs = [[2.5,4.6,0.45,0.7,0.5]];
// Figure 3 (SiO masers)
const sioLB_black = [[2.75,0.8],[2.72,0.05],[2.68,0.12],[2.65,0.17],[2.5,0.15],[2.7,-0.33],[2.68,-0.66],[2.75,-0.8],[2.0,0.45],[2.0,0.15],[1.98,0.08],[2.0,-0.2],[2.05,-0.33],[2.0,-0.35],[1.9,-0.37],[1.85,-0.37],[1.8,0.12],[1.6,0.05],[1.25,0.46],[1.22,0.48],[1.1,-0.26],[1.3,-0.43],[0.85,-0.38],[0.8,0.32],[0.7,0.28],[0.7,-0.3],[0.68,-0.45],[0.45,0.46],[0.35,0.48],[0.25,0.3],[0.15,-0.38],[0.13,1.0],[0.0,0.45],[-0.2,0.3],[-0.25,0.45],[-0.3,0.3],[-0.55,-0.44],[-0.7,-0.32],[-0.95,0.46],[-0.97,0.48],[-0.97,-0.5],[-1.2,0.44],[-1.3,-0.05],[-1.35,0.2],[-1.4,0.96],[-1.48,0.98],[-1.5,0.95],[-1.72,0.48],[-2.8,0.55],[-2.82,-0.62],[-2.9,0.03],[-2.95,0.25],[-2.97,-0.01]];
const sioLB_red = [[1.3,-0.2],[1.25,-0.23],[1.2,0.18],[1.15,0.22],[1.0,-0.1],[0.95,-0.18],[0.9,0.2],[0.8,-0.15],[0.7,-0.08],[0.65,0.1],[0.5,-0.18],[0.45,-0.02],[0.4,0.05],[0.35,-0.12],[0.3,0.15],[0.25,-0.05],[0.2,0.08],[0.15,-0.2],[0.1,0.1],[0.05,-0.1],[-0.05,0.08],[-0.1,-0.03],[-0.2,0.1],[-0.25,-0.15],[-0.3,0.2],[-0.35,0.0],[-0.45,0.12],[-0.5,-0.05],[-0.6,0.2],[-0.7,-0.15],[-0.75,0.05],[-0.85,0.0],[-0.95,-0.18],[-1.0,0.18],[-1.05,0.05],[-1.15,-0.1],[0.1,-0.22],[-0.4,-0.2]];
const sioLV_black = [[2.75,-15],[2.72,-90],[2.7,-60],[2.7,60],[2.68,-45],[2.65,40],[2.5,20],[2.72,-18],[2.05,40],[2.0,140],[1.98,20],[2.0,35],[1.98,-85],[1.95,-155],[1.9,-20],[1.85,130],[1.8,118],[1.55,-115],[1.3,-60],[1.25,-18],[1.22,148],[1.1,-35],[0.85,10],[0.75,-38],[0.7,-148],[0.68,-188],[0.45,-142],[0.65,68],[0.3,-22],[0.28,148],[0.15,148],[0.15,70],[0.05,-32],[-0.05,-45],[-0.25,-28],[-0.25,45],[-0.3,30],[-0.3,-55],[-0.3,-110],[-0.5,5],[-0.7,-158],[-0.95,-138],[-0.95,-200],[-1.0,-98],[-0.97,170],[-1.25,-192],[-1.3,58],[-1.4,42],[-1.4,5],[-1.48,112],[-1.5,20],[-1.72,105],[-2.8,-148],[-2.85,-275],[-2.9,-75],[-2.95,-233],[-2.97,-38]];
const sioLV_red = [[1.25,125],[1.2,105],[1.2,-102],[1.1,-40],[1.0,115],[0.95,-30],[0.9,105],[0.85,122],[0.8,90],[0.75,-35],[0.65,50],[0.62,110],[0.5,55],[0.45,130],[0.42,-35],[0.38,115],[0.35,55],[0.3,100],[0.25,25],[0.22,95],[0.2,78],[0.15,-5],[0.1,-10],[0.1,65],[0.05,15],[-0.05,-60],[-0.1,-20],[-0.15,-115],[-0.2,25],[-0.25,-110],[-0.3,-65],[-0.35,90],[-0.4,75],[-0.45,-125],[-0.5,55],[-0.55,-25],[-0.65,-95],[-0.65,140],[-0.7,-55],[-0.72,-75],[-0.75,-88],[-0.85,-112],[-0.95,180],[-1.0,20],[-1.05,-140],[-1.25,-125],[-0.2,-198]];
const sioHK_black = [[0.75,4.6],[0.9,4.8],[0.95,4.2],[1.0,5.0],[1.05,5.6],[1.1,4.8],[1.15,6.0],[1.2,5.2],[1.25,5.4],[1.3,6.4],[1.35,5.8],[1.4,7.0],[1.45,6.5],[1.5,7.5],[1.55,8.0],[1.6,7.0],[1.65,7.8],[1.7,6.6],[1.75,7.5],[1.8,8.5],[1.85,8.0],[1.9,7.6],[2.0,8.0],[2.1,8.2],[2.2,7.8],[2.3,8.4],[2.4,8.1],[2.5,8.6],[2.6,8.3],[2.7,8.5],[2.8,8.2],[2.9,8.8],[3.0,8.5],[3.15,8.3],[1.0,6.8],[1.25,7.2],[1.95,10.2]];
const sioHK_red = [[1.45,8.0],[1.5,8.5],[1.6,7.6],[1.65,8.3],[1.7,9.0],[1.75,7.9],[1.85,8.6],[1.9,7.8],[1.9,10.6],[2.0,8.4],[2.05,9.2],[2.1,8.0],[2.2,8.5],[2.25,9.0],[2.3,8.2],[2.35,8.8],[2.45,8.4],[2.5,9.2],[2.55,8.0],[2.6,9.0],[2.65,8.6],[2.75,9.4],[2.8,8.8],[2.85,9.1],[2.9,8.4],[2.95,9.6],[3.0,9.0],[3.05,9.2],[3.1,8.6],[3.45,9.3],[3.6,9.2],[1.55,10.2],[2.2,9.6],[2.4,7.6]];
const sioAK_black = [[0.75,0.6],[0.85,0.6],[0.95,0.8],[1.0,1.0],[1.05,1.1],[1.1,0.9],[1.15,1.2],[1.2,1.3],[1.25,1.1],[1.3,1.4],[1.35,1.0],[1.4,1.5],[1.45,1.3],[1.5,1.6],[1.55,1.2],[1.6,1.5],[1.65,1.8],[1.7,1.4],[1.75,1.7],[1.8,1.3],[1.85,1.8],[1.9,1.5],[2.0,1.9],[2.1,1.7],[2.2,2.0],[2.3,1.8],[2.4,2.1],[2.5,1.9],[2.6,2.2],[2.7,2.0],[2.8,2.3],[2.95,2.5],[3.05,2.6],[1.25,1.0],[0.92,0.7]];
const sioAK_red = [[1.65,1.6],[1.7,1.9],[1.8,2.0],[1.9,1.7],[1.95,2.2],[2.0,2.5],[2.05,1.9],[2.1,2.3],[2.15,2.6],[2.2,2.1],[2.3,2.4],[2.35,2.8],[2.4,2.2],[2.45,2.6],[2.5,2.3],[2.55,2.9],[2.6,2.5],[2.65,2.2],[2.7,2.8],[2.75,3.0],[2.8,2.6],[2.85,2.3],[2.9,2.9],[3.0,2.7],[3.1,2.8],[3.3,2.9],[3.5,2.5],[3.6,2.2],[1.55,2.2],[2.25,1.8]];
// Figure 2 / 4 Voronoi bins: [l_left, l_right, b_low, b_high, value]
const apoN_cells = [[1.5,1.05,-0.25,0.25,4],[1.05,0.75,-0.25,0.25,10],[0.75,0.55,0.0,0.25,10],[0.75,0.55,-0.25,0.0,8],[0.55,0.35,-0.25,0.0,7],[0.55,0.35,0.0,0.25,10],[0.35,0.2,-0.25,0.0,6],[0.35,0.2,0.0,0.25,9],[0.2,0.0,-0.25,0.0,7],[0.2,0.0,0.0,0.25,8],[0.0,-0.25,-0.25,0.25,10],[-0.35,-0.55,-0.25,0.25,4],[-0.25,-0.35,-0.25,0.25,10],[-0.55,-1.5,-0.25,0.25,10]];
const apoV_cells = [[1.5,1.0,-0.25,0.25,60],[1.0,0.7,-0.25,0.25,55],[0.7,0.55,-0.25,0.25,100],[0.55,0.4,-0.25,0.25,70],[0.4,0.2,-0.25,0.25,40],[0.2,0.05,-0.25,0.25,20],[0.05,-0.15,-0.25,0.25,-10],[-0.15,-0.3,-0.25,0.25,-30],[-0.3,-0.45,-0.25,0.25,-60],[-0.45,-0.6,-0.25,0.25,-90],[-0.6,-0.85,-0.25,0.25,-135],[-0.85,-1.05,-0.25,0.25,5],[-1.05,-1.5,-0.25,0.25,-70]];
const apoMu_cells = [[1.5,1.0,-0.25,0.25,140],[1.0,0.6,0.0,0.25,180],[1.0,0.6,-0.25,0.0,110],[0.6,0.2,-0.25,0.25,95],[0.2,0.0,-0.25,0.25,70],[0.0,-0.3,-0.25,0.25,120],[-0.3,-0.6,-0.25,0.25,135],[-0.6,-0.85,-0.25,0.25,150],[-0.85,-1.5,-0.25,0.25,125]];
const apoBinStars = [[1.35,-0.07],[0.7,0.12],[0.72,-0.06],[0.55,0.0],[0.45,0.1],[0.4,-0.05],[0.3,-0.15],[0.25,0.1],[0.2,0.0],[0.15,-0.05],[0.08,0.02],[0.0,0.15],[-0.05,-0.02],[-0.1,0.05],[-0.2,0.1],[-0.35,-0.04],[-0.65,0.12],[-0.68,-0.08],[-0.85,0.0],[-1.3,0.1],[-1.38,-0.17],[0.15,-0.15]];
const sioN_cells = [[1.5,1.15,-0.25,0.25,10],[1.15,0.85,-0.25,0.25,10],[0.85,0.55,-0.25,0.25,10],[0.55,0.3,-0.25,0.25,9],[0.3,0.0,-0.25,0.25,9],[0.0,-0.35,-0.25,0.25,10],[-0.35,-0.75,-0.25,0.25,10],[-0.75,-1.1,-0.25,0.25,10],[-1.1,-1.5,-0.25,0.25,10]];
const sioV_cells = [[1.5,1.15,-0.25,0.25,35],[1.15,0.85,-0.25,0.25,55],[0.85,0.55,-0.25,0.25,70],[0.55,0.3,-0.25,0.25,-15],[0.3,0.0,-0.25,0.25,-30],[0.0,-0.35,-0.25,0.25,-55],[-0.35,-0.75,-0.25,0.25,-80],[-0.75,-1.1,-0.25,0.25,-40],[-1.1,-1.5,-0.25,0.25,-60]];
const sioMu_cells = [[1.5,1.15,-0.25,0.25,120],[1.15,0.85,-0.25,0.25,100],[0.85,0.55,-0.25,0.25,90],[0.55,0.3,-0.25,0.25,80],[0.3,0.0,-0.25,0.25,105],[0.0,-0.35,-0.25,0.25,95],[-0.35,-0.75,-0.25,0.25,110],[-0.75,-1.1,-0.25,0.25,100],[-1.1,-1.5,-0.25,0.25,115]];
const sioBinStars = [[1.3,-0.07],[1.0,0.0],[0.7,-0.05],[0.45,0.0],[0.15,0.05],[-0.2,-0.02],[-0.55,0.08],[-0.95,0.0],[-1.3,0.05]];
// tick labels
const lTicks = [3,2,1,0,-1,-2,-3];
const bTicks = [-1.5,-1.0,-0.5,0.0,0.5,1.0,1.5];
const vTicks = [-300,-200,-100,0,100,200,300];
const kTicks = [0,2,4,6,8,10,12,14,16];
const hkTicks = [-1,0,1,2,3,4,5];
const akTicks = [-2,0,2,4,6,8,10];
const nCbTicks = [0,2,4,6,8,10];
const vCbTicks = [-135,-90,-45,0,45,90,135];
const muCbTicks = [0,45,90,135,180,225,270];

// ---------------- DRAWING ----------------
const NS='http://www.w3.org/2000/svg';
const svg=document.getElementById('figs');
function el(parent,tag,attrs){const e=document.createElementNS(NS,tag);for(const k in attrs)e.setAttribute(k,attrs[k]);parent.appendChild(e);return e;}
const VIR=['#440154','#482475','#414487','#355f8d','#2a788e','#21918c','#22a884','#44bf70','#7ad151','#bddf26','#fde725'];
function viridis(t){t=Math.max(0,Math.min(1,t));return VIR[Math.round(t*10)];}
function bwr(t){t=Math.max(-1,Math.min(1,t));if(t<0){const k=Math.round(255*(1+t));return `rgb(${k},${k},255)`;}const k=Math.round(255*(1-t));return `rgb(255,${k},${k})`;}
function fmt(v){return (v<0?'−':'')+Math.abs(v);}
function fmt1(v){return (v<0?'−':'')+Math.abs(v).toFixed(1);}

function makePanel(s){
  const g=el(svg,'g',{});
  
  
  const sx=v=>s.x+(v-s.xd[0])/(s.xd[1]-s.xd[0])*s.w;
  const sy=v=>s.y+s.h-(v-s.yd[0])/(s.yd[1]-s.yd[0])*s.h;
  const gridG=el(g,'g',{stroke:'#d9d9d9','stroke-width':0.8});
  
  
  s.xt.forEach(v=>el(gridG,'line',{x1:sx(v),x2:sx(v),y1:s.y,y2:s.y+s.h}));
  s.yt.forEach(v=>el(gridG,'line',{x1:s.x,x2:s.x+s.w,y1:sy(v),y2:sy(v)}));
  const xtG=el(g,'g',{'font-size':7.5,fill:'#444','text-anchor':'middle'});
  
  
  s.xt.forEach(v=>{const t=el(xtG,'text',{x:sx(v),y:s.y+s.h+8});t.textContent=fmt(v);});
  const ytG=el(g,'g',{'font-size':7.5,fill:'#444','text-anchor':'end'});
  
  
  s.yt.forEach(v=>{const t=el(ytG,'text',{x:s.x-2,y:sy(v)+2.5});t.textContent=s.yfmt?s.yfmt(v):fmt(v);});
  const xl=el(g,'text',{x:s.x+s.w/2,y:s.y+s.h+19,'font-size':10,'text-anchor':'middle','font-style':'italic',fill:'#222'});
  
  
  xl.textContent=s.xl;
  const yl=el(g,'text',{x:0,y:0,'font-size':10,'text-anchor':'middle','font-style':'italic',fill:'#222',transform:`translate(${s.x-s.yoff},${s.y+s.h/2}) rotate(-90)`});
  
  
  yl.textContent=s.yl;
  const clipId='c'+Math.round(s.x)+'_'+Math.round(s.y);
  const cp=el(el(g,'defs',{}),'clipPath',{id:clipId});el(cp,'rect',{x:s.x,y:s.y,width:s.w,height:s.h});
  const marks=el(g,'g',{'clip-path':`url(#${clipId})`});
  
  
  const fr=el(g,'rect',{x:s.x,y:s.y,width:s.w,height:s.h,fill:'none',stroke:'#333','stroke-width':0.9});
  
  
  const lw=s.tag.length*4.6+8;
  const lb=el(g,'rect',{x:s.x+5,y:s.y+5,width:lw,height:13,fill:'#fff',stroke:'#444','stroke-width':0.8});
  
  
  const lt=el(g,'text',{x:s.x+9,y:s.y+15,'font-size':8,fill:'#222','font-family':'Liberation Sans, sans-serif'});
  
  
  lt.textContent=s.tag;
  return {g,marks,sx,sy,s};
}
// fill: solid colour or speckle pattern (visual texture of dense scatter)
function blobs(P,arr,fill,name){
  arr.forEach(b=>{const e=el(P.marks,'ellipse',{cx:P.sx(b[0]),cy:P.sy(b[1]),rx:Math.abs(P.sx(b[0]+b[2])-P.sx(b[0])),ry:Math.abs(P.sy(b[1]+b[3])-P.sy(b[1])),fill:fill,'fill-opacity':b[4]});
    
    });
}
function dots(P,arr,color,name,r){
  arr.forEach(p=>{const c=el(P.marks,'rect',{x:P.sx(p[0])-r,y:P.sy(p[1])-r,width:2*r,height:2*r,fill:color});
    
    });
}
function polyline(P,arr,color,name,closed){
  const d=arr.map((p,i)=>(i?'L':'M')+P.sx(p[0])+','+P.sy(p[1])).join('')+(closed?'Z':'');
  const e=el(P.marks,'path',{d,fill:'none',stroke:color,'stroke-width':1,'stroke-dasharray':'3,2'});
  
  
}
function boxPath(P,b,color,name){polyline(P,[[b[0],b[2]],[b[1],b[2]],[b[1],b[3]],[b[0],b[3]]],color,name,true);}
function bandPoly(P,arr,name){
  const e=el(P.marks,'polygon',{points:arr.map(p=>P.sx(p[0])+','+P.sy(p[1])).join(' '),fill:'#000','fill-opacity':0.9});
  
  
}
function cells(P,arr,colorFn,name){
  arr.forEach(c=>{const x1=P.sx(c[0]),x2=P.sx(c[1]),y1=P.sy(c[3]),y2=P.sy(c[2]);
    const r=el(P.marks,'rect',{x:Math.min(x1,x2),y:y1,width:Math.abs(x2-x1),height:y2-y1,fill:colorFn(c[4]),stroke:'#111','stroke-width':0.7});
    
    });
}
function colorbar(x,y,w,h,lo,hi,n,colorFn,ticks,label,name){
  const g=el(svg,'g',{});
  
  
  for(let i=0;i<n;i++){const v=lo+(hi-lo)*(i+0.5)/n;
    const r=el(g,'rect',{x:x,y:y+h-(i+1)*h/n,width:w,height:h/n+0.3,fill:colorFn(v)});
    
    }
  el(g,'rect',{x,y,width:w,height:h,fill:'none',stroke:'#333','stroke-width':0.8});
  ticks.forEach(v=>{const yy=y+h-(v-lo)/(hi-lo)*h;const t=el(g,'text',{x:x+w+3,y:yy+1.5,'font-size':4.5,fill:'#555'});t.textContent=fmt(v);});
  const lt=el(g,'text',{x:0,y:0,'font-size':9,'text-anchor':'middle',fill:'#222',transform:`translate(${x+w+20},${y+h/2}) rotate(-90)`});
  
  
  lt.textContent=label;
}

function scatterFig(x0,x1,ys,tag,d,prefix){
  const p1=makePanel({name:prefix+'-lb-panel',x:x0,y:ys[0][0],w:x1-x0,h:ys[0][1]-ys[0][0],xd:[3,-3],yd:[-1.5,1.5],xt:lTicks,yt:bTicks,yfmt:fmt1,xl:'l [deg]',yl:'b [deg]',yoff:22,tag});
  if(d.lbField)blobs(p1,d.lbField,'url(#speck)','field-star-density');
  if(d.lbDense)blobs(p1,d.lbDense,'#000','dense-star-clump');
  dots(p1,d.lbBlack,'#000','excluded-star',1.1);
  if(d.lbRedB)blobs(p1,d.lbRedB,'url(#speckR)','selected-star-density');
  dots(p1,d.lbRed,'#e41a1c','selected-star',1.1);
  boxPath(p1,selBox,'#e41a1c','selection-box');
  const p2=makePanel({name:prefix+'-lv-panel',x:x0,y:ys[1][0],w:x1-x0,h:ys[1][1]-ys[1][0],xd:[3,-3],yd:[-300,300],xt:lTicks,yt:vTicks,xl:'l [deg]',yl:'v_los [km/s]',yoff:26,tag});
  if(d.lvField)blobs(p2,d.lvField,'url(#speck)','field-star-density');
  if(d.lvDense)blobs(p2,d.lvDense,'url(#speck)','dense-star-clump');
  dots(p2,d.lvBlack,'#000','excluded-star',1.1);
  if(d.lvRedB)blobs(p2,d.lvRedB,'url(#speckR)','selected-star-density');
  dots(p2,d.lvRed,'#e41a1c','selected-star',1.1);
  polyline(p2,cutPoly,'#3a9ad9','velocity-cut-polygon',true);
  const p3=makePanel({name:prefix+'-cmd-panel',x:x0-9,y:ys[2][0],w:x1-x0+9,h:ys[2][1]-ys[2][0],xd:[-1,5],yd:[16,0],xt:hkTicks,yt:kTicks,xl:'H − K',yl:'K',yoff:18,tag});
  if(d.hkDense)blobs(p3,d.hkDense,'#000','dense-star-clump');
  dots(p3,d.hkBlack,'#000','excluded-star',1.2);
  if(d.hkRedB)blobs(p3,d.hkRedB,'url(#speckR)','selected-star-density');
  dots(p3,d.hkRed,'#e41a1c','selected-star',1.2);
  polyline(p3,redCut,'#e41a1c','colour-cut-line',false);
  polyline(p3,blueCut,'#3a9ad9','alt-colour-cut-line',false);
  const p4=makePanel({name:prefix+'-extinction-panel',x:x0-9,y:ys[3][0],w:x1-x0+9,h:ys[3][1]-ys[3][0],xd:[-1,5],yd:[-3,10],xt:hkTicks,yt:akTicks,xl:'H − K',yl:'A_K',yoff:18,tag});
  if(d.akBand)bandPoly(p4,d.akBand,'excluded-star-band');
  dots(p4,d.akBlack,'#000','excluded-star',1.2);
  if(d.akRedB)blobs(p4,d.akRedB,'url(#speckR)','selected-star-density');
  dots(p4,d.akRed,'#e41a1c','selected-star',1.2);
}
scatterFig(1795,2090,[[151,295],[334,506],[545,727],[765,949]],'APOGEE',
 {lbField:apoLB_fieldBlobs,lbDense:apoLB_denseBlobs,lbBlack:apoLB_black,lbRedB:apoLB_redBlobs,lbRed:apoLB_red,
  lvField:apoLV_fieldBlobs,lvDense:apoLV_denseBlobs,lvBlack:apoLV_black,lvRedB:apoLV_redBlobs,lvRed:apoLV_red,
  hkDense:apoHK_denseBlobs,hkBlack:apoHK_black,hkRedB:apoHK_redBlobs,hkRed:apoHK_red,
  akBand:apoAK_band,akBlack:[],akRedB:apoAK_redBlobs,akRed:apoAK_red},'figure-1');
scatterFig(2644,2934,[[151,297],[334,506],[545,727],[765,949]],'SiO masers',
 {lbBlack:sioLB_black,lbRed:sioLB_red,lvBlack:sioLV_black,lvRed:sioLV_red,hkBlack:sioHK_black,hkRed:sioHK_red,akBlack:sioAK_black,akRed:sioAK_red},'figure-3');

function voronoiFig(x0,x1,cbx,ys,tag,nC,vC,muC,stars,prefix){
  const nCol=v=>viridis(v/10), vCol=v=>bwr(v/140), muCol=v=>viridis(1-v/300);
  const specs=[[nC,nCol,'N (# of stars in the bin)',0,10,10,nCbTicks,'-count'],[vC,vCol,'⟨v_los⟩ [km/s]',-150,150,20,vCbTicks,'-mean-velocity'],[muC,muCol,'μ_obs [km/s]',0,300,20,muCbTicks,'-rms-velocity']];
  specs.forEach((sp,i)=>{
    const P=makePanel({name:prefix+sp[7]+'-panel',x:x0,y:ys[i][0],w:x1-x0,h:ys[i][1]-ys[i][0],xd:[3,-3],yd:[-1.5,1.5],xt:lTicks,yt:bTicks,yfmt:fmt1,xl:'l [deg]',yl:'b [deg]',yoff:24,tag});
    cells(P,sp[0],sp[1],'voronoi-bin');
    if(i>0)dots(P,stars,'#000','bin-centroid',1.2);
    colorbar(cbx,ys[i][0],17,ys[i][1]-ys[i][0],sp[3],sp[4],sp[5],sp[1],sp[6],sp[2],prefix+sp[7]+'-colorbar');
  });
}
voronoiFig(2167,2417,2423,[[150,275],[304,428],[457,581]],'APOGEE',apoN_cells,apoV_cells,apoMu_cells,apoBinStars,'figure-2');
voronoiFig(3014,3263,3270,[[150,275],[304,428],[457,581]],'SiO masers',sioN_cells,sioV_cells,sioMu_cells,sioBinStars,'figure-4');
</script>
</body></html>
